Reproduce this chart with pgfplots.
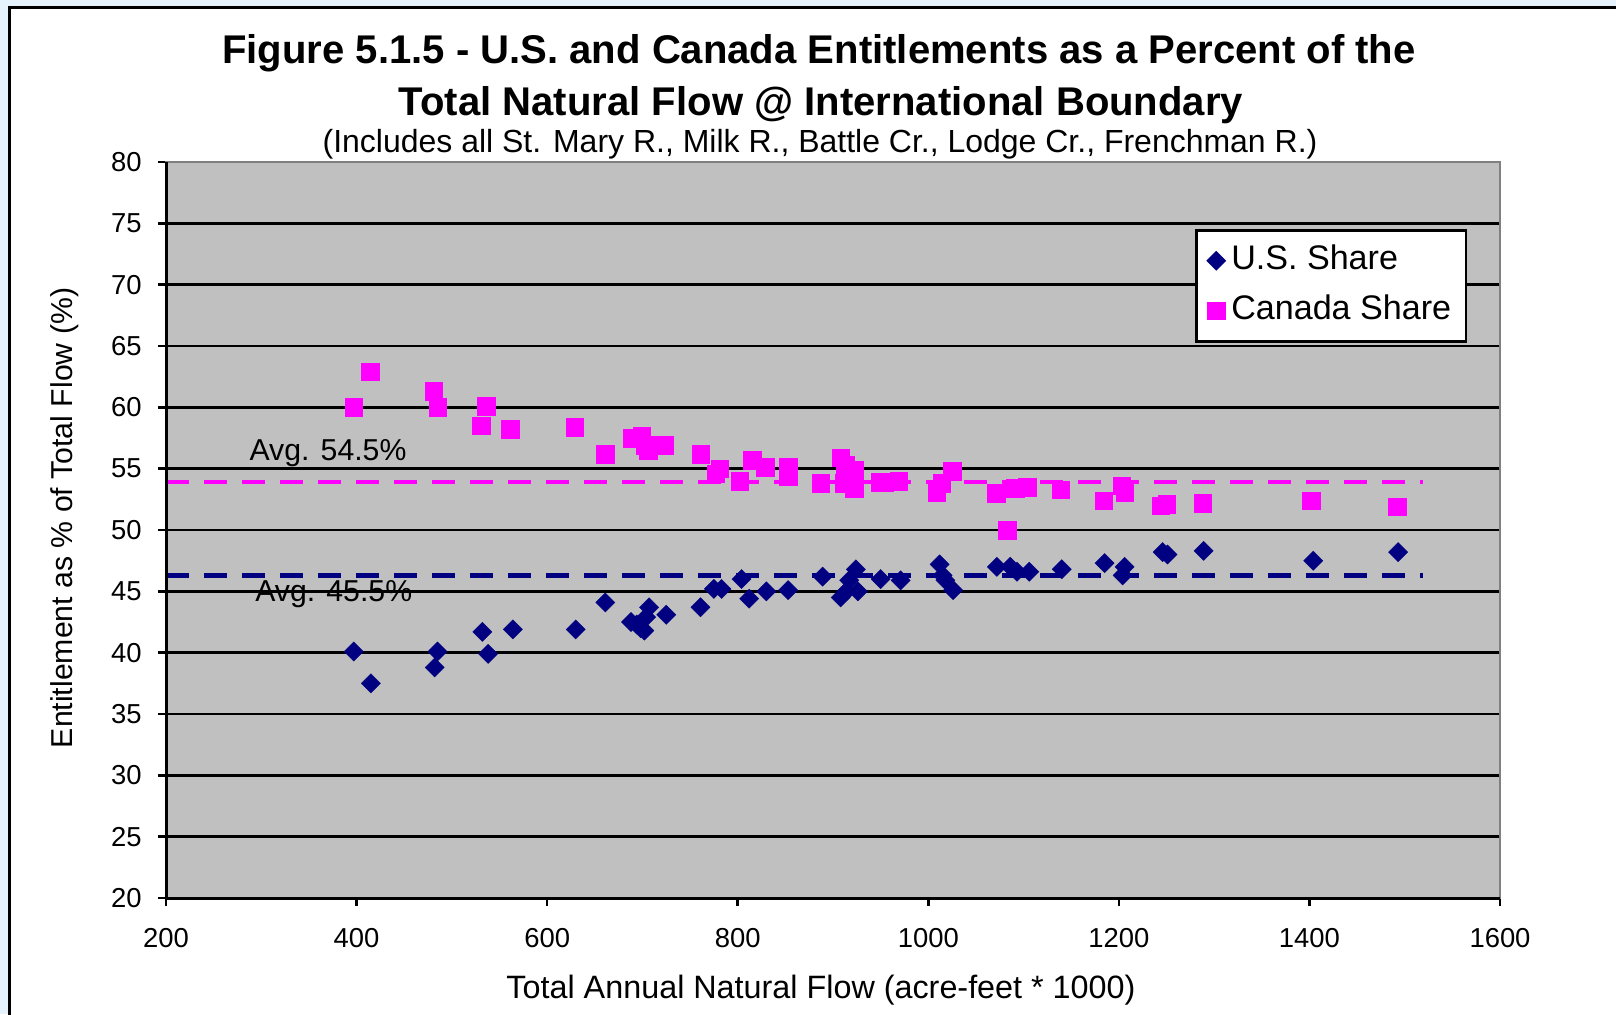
\documentclass[border=0pt]{standalone}
\usepackage{pgfplots}
\usepackage{pgfplotstable}
\pgfplotsset{compat=1.18}
\usepackage{fontspec}
\setmainfont{Liberation Sans}
\definecolor{bgblue}{HTML}{E6F3FC}
\definecolor{plotgray}{HTML}{C0C0C0}
\definecolor{usnavy}{HTML}{000080}
\definecolor{camag}{HTML}{FF00FF}
\definecolor{bordergray}{HTML}{808080}
\pgfplotstableread{
x y
397 40.1
415 37.5
482 38.8
485 40.1
532 41.7
538 39.9
564 41.9
630 41.9
661 44.1
688 42.5
694 42.3
698 42.0
702 41.8
704 42.9
707 43.7
725 43.1
761 43.7
775 45.2
783 45.2
804 46.0
812 44.4
830 45.0
853 45.1
889 46.2
908 44.5
914 45.0
917 45.9
924 46.8
926 45.0
950 46.0
971 45.9
1012 47.2
1015 46.3
1018 45.9
1026 45.1
1072 47.0
1086 47.0
1093 46.6
1106 46.6
1140 46.8
1185 47.3
1204 46.3
1206 47.0
1246 48.2
1251 48.0
1289 48.3
1404 47.5
1493 48.2
}\usdata
\pgfplotstableread{
x y
397 60.0
414 62.9
481 61.3
485 60.0
531 58.5
536 60.1
561 58.2
629 58.4
661 56.2
689 57.5
699 57.7
703 56.9
706 56.5
723 56.9
761 56.2
777 54.6
781 55.0
802 54.0
815 55.7
829 55.1
853 55.1
853 54.4
887 53.8
908 55.9
911 53.8
913 55.3
922 54.9
922 53.4
949 53.9
954 53.9
969 54.0
1009 53.1
1014 53.8
1025 54.8
1071 53.0
1083 50.0
1091 53.4
1104 53.5
1139 53.3
1184 52.4
1203 53.6
1206 53.1
1244 52.0
1250 52.1
1288 52.2
1402 52.4
1492 51.9
}\cadata
\begin{document}
\begin{tikzpicture}
\begin{scope}[x=0.1mm,y=0.1mm]
\useasboundingbox (0,0) rectangle (1616,1014);
\fill[bgblue] (0,0) rectangle (1616,1014);
\fill[white] (9.5,0) rectangle (1616,1006.5);
\draw[line width=0.3mm] (9.5,-5) -- (9.5,1006.5) -- (1620,1006.5);
\node[anchor=base, inner sep=0, font=\bfseries\fontsize{11.4}{13}\selectfont] at (819,951) {Figure 5.1.5 - U.S. and Canada Entitlements as a Percent of the};
\node[anchor=base, inner sep=0, font=\bfseries\fontsize{11.4}{13}\selectfont] at (821,899) {Total Natural Flow @ International Boundary};
\node[anchor=base, inner sep=0, font=\fontsize{9.1}{11}\selectfont] at (820,862) {(Includes all St. Mary R., Milk R., Battle Cr., Lodge Cr., Frenchman R.)};
\node[inner sep=0, font=\fontsize{9.2}{11}\selectfont] at (821,24) {Total Annual Natural Flow (acre-feet * 1000)};
\node[rotate=90, inner sep=0, font=\fontsize{8.6}{10}\selectfont] at (65,496) {Entitlement as \% of Total Flow (\%)};
\end{scope}
\begin{axis}[at={(16.6mm,11.6mm)}, anchor=south west, scale only axis,
  width=133.4mm, height=73.6mm,
  xmin=200, xmax=1600, ymin=20, ymax=80,
  xtick={200,400,...,1600}, ytick={20,25,...,80},
  tick align=outside, major tick length=0.8mm, tick pos=left,
  axis background/.style={fill=plotgray},
  axis line style={draw=bordergray, line width=0.2mm},
  ymajorgrids, grid style={black, line width=0.25mm},
  tick style={black, line width=0.25mm},
  ticklabel style={font=\fontsize{7.8}{9}\selectfont},
  xticklabel style={yshift=-1.0mm},
  yticklabel style={xshift=-0.4mm},
  /pgf/number format/assume math mode=true,
  /pgf/number format/1000 sep={},
  clip=false,
  legend style={at={(0.7714,0.909)}, anchor=north west, draw=black, line width=0.25mm, fill=white,
    inner xsep=1mm, inner ysep=1mm, row sep=0.9mm,
    nodes={inner sep=0.5mm, anchor=west, text height=2.4mm, text depth=0.7mm},
    font=\fontsize{9.7}{11}\selectfont},
  legend image code/.code={\path[draw=none,fill=none] (0,-0.1cm) rectangle (0.2cm,0.1cm); \draw[#1] plot coordinates {(0.1cm,0cm)};},
  legend cell align=left,
]
\addplot[forget plot, camag, line width=0.45mm, dash pattern=on 2.3mm off 1.5mm] coordinates {(200,53.9) (1519,53.9)};
\addplot[forget plot, usnavy, line width=0.45mm, dash pattern=on 2.3mm off 1.5mm] coordinates {(200,46.3) (1519,46.3)};
\addplot[only marks, mark=square*, mark size=0.68mm, mark options={rotate=45, draw=usnavy, fill=usnavy, line width=0.1pt}] table[x=x,y=y] {\usdata};
\addlegendentry{U.S. Share}
\addplot[only marks, mark=square*, mark size=0.88mm, mark options={draw=camag, fill=camag, line width=0.1pt}] table[x=x,y=y] {\cadata};
\addlegendentry{Canada Share}
\draw[bordergray, line width=0.2mm] (rel axis cs:0,1) -- (rel axis cs:1,1) -- (rel axis cs:1,0);
\draw[black, line width=0.3mm] (rel axis cs:0,1) -- (rel axis cs:0,0) -- (rel axis cs:1,0);
\node[anchor=south west, inner sep=0, font=\fontsize{8.6}{10}\selectfont] at (axis cs:287,55.1) {Avg. 54.5\%};
\node[anchor=west, inner sep=0, font=\fontsize{8.6}{10}\selectfont] at (axis cs:293,44.75) {Avg. 45.5\%};
\end{axis}
\end{tikzpicture}
\end{document}
